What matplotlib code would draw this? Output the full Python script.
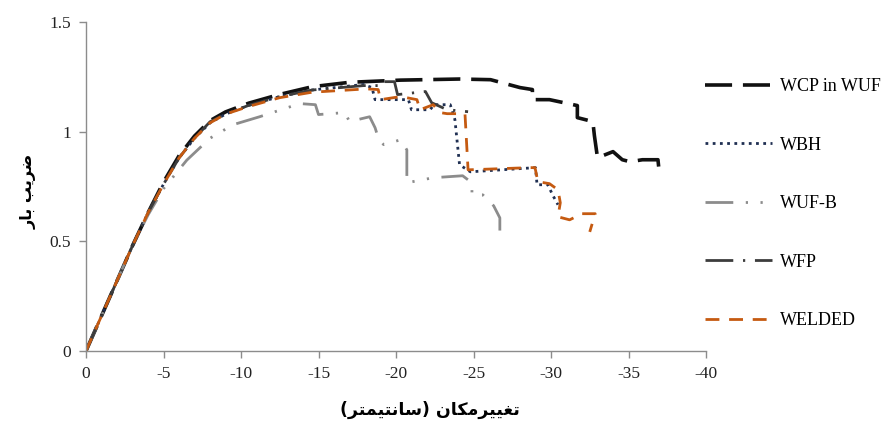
import matplotlib.pyplot as plt

plt.rcParams['font.family'] = ['Liberation Serif', 'DejaVu Sans']
plt.rcParams['axes.unicode_minus'] = False

# displacement (cm) and load factor, one pair of lists per specimen
wcp_x = [0, -1, -2, -3, -4, -5, -6, -7, -8, -9, -10.5, -12.5, -14.6, -17.0, -20.3, -24.1,
         -26.1, -28.0, -28.8, -28.8, -29.9, -31.7, -31.7, -32.7, -32.8, -33.0, -34.0,
         -34.6, -35.1, -35.9, -36.9, -37.0]
wcp_y = [0, 0.16, 0.32, 0.48, 0.63, 0.77, 0.89, 0.98, 1.05, 1.09, 1.13, 1.17, 1.205, 1.225,
         1.235, 1.24, 1.237, 1.201, 1.192, 1.146, 1.146, 1.119, 1.064, 1.046, 0.982, 0.881,
         0.909, 0.872, 0.863, 0.872, 0.872, 0.804]

wbh_x = [0, -1, -2, -3, -4, -5, -6, -7, -8, -9, -10.5, -12.5, -14.6, -17.9, -18.45, -18.65,
         -20.8, -21.0, -22.2, -22.45, -23.5, -23.8, -24.1, -24.8, -29.0, -29.1, -29.8, -30.1,
         -30.45]
wbh_y = [0, 0.16, 0.32, 0.48, 0.63, 0.76, 0.88, 0.97, 1.04, 1.08, 1.12, 1.16, 1.19, 1.215,
         1.201, 1.146, 1.146, 1.10, 1.10, 1.123, 1.123, 1.055, 0.849, 0.817, 0.836, 0.758,
         0.758, 0.712, 0.667]

wufb_x = [0, -1, -2, -3, -4, -5, -6.5, -8.0, -9.5, -11.2, -13.8, -14.8, -15.0, -16.7, -17.0,
          -18.3, -18.65, -18.85, -19.2, -20.3, -20.7, -20.7, -22.4, -24.3, -24.9, -24.9,
          -25.6, -26.3, -26.7, -26.7]
wufb_y = [0, 0.16, 0.32, 0.48, 0.62, 0.74, 0.87, 0.97, 1.032, 1.068, 1.128, 1.123, 1.078,
          1.087, 1.046, 1.068, 1.018, 0.973, 0.941, 0.963, 0.917, 0.767, 0.79, 0.799, 0.767,
          0.712, 0.712, 0.662, 0.607, 0.516]

wfp_x = [0, -1, -2, -3, -4, -5, -6, -7, -8, -9, -10.5, -12.5, -14.6, -17.9, -19.0, -19.1,
         -19.9, -20.1, -21.9, -22.3, -23.3, -24.65]
wfp_y = [0, 0.16, 0.32, 0.48, 0.63, 0.76, 0.88, 0.97, 1.045, 1.08, 1.12, 1.16, 1.19, 1.21,
         1.21, 1.228, 1.228, 1.169, 1.183, 1.132, 1.10, 1.091]

welded_x = [0, -1, -2, -3, -4, -5, -6, -7, -8, -9, -10.5, -12.5, -14.6, -18.1, -18.85, -19.0,
            -20.3, -21.35, -21.55, -22.4, -22.85, -23.3, -24.45, -24.65, -28.65, -28.97,
            -29.15, -29.9, -30.45, -30.6, -30.45, -31.2, -32.0, -32.85, -32.5]
welded_y = [0, 0.16, 0.32, 0.48, 0.63, 0.76, 0.88, 0.97, 1.04, 1.08, 1.115, 1.155, 1.18, 1.195,
            1.192, 1.146, 1.16, 1.146, 1.10, 1.123, 1.087, 1.082, 1.082, 0.826, 0.836, 0.836,
            0.772, 0.763, 0.735, 0.676, 0.612, 0.598, 0.626, 0.626, 0.543]

series_names = ['WCP in WUF', 'WBH', 'WUF-B', 'WFP', 'WELDED']
x_ticks = [0, -5, -10, -15, -20, -25, -30, -35, -40]
y_ticks = [0, 0.5, 1, 1.5]

# Persian labels written in shaped presentation forms, visual order (matplotlib has no shaping)
y_label = '\uFEAD\uFE8E\uFE91 \uFE90\uFBFE\uFEAE\uFEBF'  # ضریب بار
x_label = ('(' + '\uFEAE\uFE98\uFEE4\uFBFF\uFE98\uFEE7\uFE8E\uFEB3' + ') '
           + '\uFEE5\uFE8E\uFB91\uFEE3\uFEAE\uFBFF\uFBFF\uFED0\uFE97')  # تغییرمکان (سانتیمتر)

fig = plt.figure(figsize=(8.82, 4.25), dpi=100)
ax = fig.add_axes([86 / 882, 1 - 351 / 425, 620 / 882, 329 / 425])

styles = [
    dict(color='#111111', lw=2.6, dashes=(7.5, 3)),
    dict(color='#1f2f52', lw=2.0, dashes=(1, 1.6)),
    dict(color='#8c8c8c', lw=2.0, dashes=(10, 4.5, 0.8, 4.5, 0.8, 4.5)),
    dict(color='#3c3c3c', lw=2.0, dashes=(10, 3.5, 0.8, 3.5)),
    dict(color='#c55a11', lw=2.0, dashes=(5, 3.5)),
]
data = [(wcp_x, wcp_y), (wbh_x, wbh_y), (wufb_x, wufb_y), (wfp_x, wfp_y), (welded_x, welded_y)]
for (xs, ys), name, st in zip(data, series_names, styles):
    ax.plot(xs, ys, label=name, **st)

ax.set_xlim(0, -40)
ax.set_ylim(0, 1.5)
ax.set_xticks(x_ticks)
ax.set_xticklabels([str(t) for t in x_ticks])
ax.set_yticks(y_ticks)
ax.set_yticklabels(['0', '0.5', '1', '1.5'])
for s in ['top', 'right']:
    ax.spines[s].set_visible(False)
for s in ['left', 'bottom']:
    ax.spines[s].set_color('#8c8c8c')
    ax.spines[s].set_linewidth(1.0)
ax.tick_params(axis='both', colors='#8c8c8c', length=5, width=1, labelsize=12.5,
               labelcolor='#222222', pad=6)

fig.text(0.033, 0.55, y_label, rotation=90, ha='center', va='center',
         family='DejaVu Sans', fontweight='bold', fontsize=11.5)
fig.text(0.487, 0.035, x_label, ha='center', va='center',
         family='DejaVu Sans', fontweight='bold', fontsize=12.5)

ax.legend(loc='upper left', bbox_to_anchor=(705 / 882, 1 - 78 / 425),
          bbox_transform=fig.transFigure, frameon=False, fontsize=13,
          handlelength=3.7, handletextpad=0.45, labelspacing=2.3, borderpad=0,
          borderaxespad=0)

plt.savefig('out.png', dpi=100)
